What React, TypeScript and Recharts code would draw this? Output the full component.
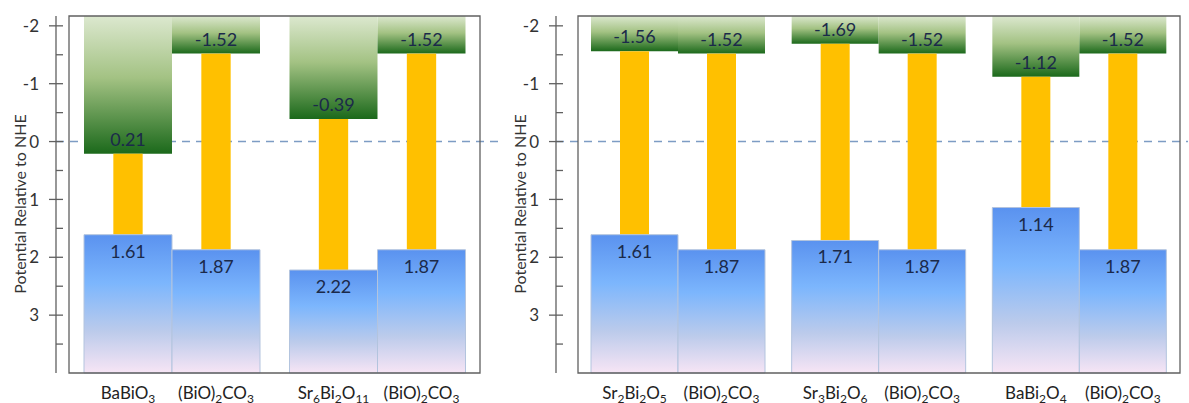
import React from 'react';
import { BarChart, Bar, XAxis, YAxis, ReferenceLine, ReferenceArea, LabelList } from 'recharts';

// ---- data ----
const Y_TOP = -2.17;
const Y_BOTTOM = 4;
const Y_TICKS = [-2, -1.5, -1, -0.5, 0, 0.5, 1, 1.5, 2, 2.5, 3, 3.5];

const leftMaterials = ['BaBiO3', 'Sr6Bi2O11'];
const leftMaterialCB = [0.21, -0.39];
const leftMaterialVB = [1.61, 2.22];

const rightMaterials = ['Sr2Bi2O5', 'Sr3Bi2O6', 'BaBi2O4'];
const rightMaterialCB = [-1.56, -1.69, -1.12];
const rightMaterialVB = [1.61, 1.71, 1.14];

const refName = '(BiO)2CO3';
const refCB = -1.52;
const refVB = 1.87;

const FONT = "Lato, 'Noto Sans', sans-serif";
const TEXT = '#1b2a4a';
const AXIS = '#606060';

function buildRows(names: string[], cbs: number[], vbs: number[]) {
  return names.map((n, i) => ({
    group: n,
    nameA: n,
    cbA: cbs[i],
    vbA: vbs[i],
    nameB: refName,
    cbB: refCB,
    vbB: refVB,
    gA: [Y_TOP, cbs[i]],
    yA: [cbs[i], vbs[i]],
    bA: [vbs[i], Y_BOTTOM],
    gB: [Y_TOP, refCB],
    yB: [refCB, refVB],
    bB: [refVB, Y_BOTTOM],
  }));
}

const leftRows = buildRows(leftMaterials, leftMaterialCB, leftMaterialVB);
const rightRows = buildRows(rightMaterials, rightMaterialCB, rightMaterialVB);

function norm(p: any) {
  const vb = p.viewBox && typeof p.viewBox.x === 'number' ? p.viewBox : p;
  const x = Number(vb.x);
  const w = Number(vb.width);
  const y = Number(vb.y);
  const h = Number(vb.height);
  const top = Math.min(y, y + h);
  return { x, w, top, bottom: top + Math.abs(h), h: Math.abs(h) };
}

const YTick = (props: any) => {
  const { x, y, payload } = props;
  const v = payload.value;
  const major = Number.isInteger(v);
  return (
    <g>
      <line x1={major ? x - 7 : x} x2={x + 7} y1={y} y2={y} stroke={AXIS} strokeWidth={1.3} />
      {major && (
        <text x={x - 17} y={y} dy="0.36em" textAnchor="end" fontSize={17} fontFamily={FONT} fill="#333">
          {String(v)}
        </text>
      )}
    </g>
  );
};

const GapShape = (props: any) => {
  const r = norm(props);
  const w = r.w / 3;
  return <rect x={r.x + (r.w - w) / 2} y={r.top} width={w} height={r.h} fill="#FFC000" />;
};

const cbLabel = (props: any) => {
  const r = norm(props);
  return (
    <text x={r.x + r.w / 2} y={r.bottom - 8} textAnchor="middle" fontSize={18} fontFamily={FONT} fill={TEXT}>
      {String(props.value)}
    </text>
  );
};

const vbLabel = (props: any) => {
  const r = norm(props);
  return (
    <text x={r.x + r.w / 2} y={r.top + 23} textAnchor="middle" fontSize={18} fontFamily={FONT} fill={TEXT}>
      {String(props.value)}
    </text>
  );
};

function formula(s: string) {
  const parts = s.match(/\d+|\D+/g) || [];
  let sub = false;
  return parts.map((p, i) => {
    const isNum = /^\d+$/.test(p);
    let dy = 0;
    if (isNum && !sub) { dy = 4; sub = true; }
    else if (!isNum && sub) { dy = -4; sub = false; }
    return (
      <tspan key={i} dy={dy} fontSize={isNum ? 12 : 17}>{p}</tspan>
    );
  });
}

const nameLabel = (props: any) => {
  const r = norm(props);
  return (
    <text x={r.x + r.w / 2} y={r.bottom + 26} textAnchor="middle" fontFamily={FONT} fill="#222">
      {formula(String(props.value))}
    </text>
  );
};

type PanelProps = {
  rows: any[];
  left: number;
  width: number;
  plotLeft: number;
  plotRight: number;
  padL: number;
  padR: number;
  gap: number;
  uid: string;
};

function Panel({ rows, left, width, plotLeft, plotRight, padL, padR, gap, uid }: PanelProps) {
  const YW = 40;
  const pad = { left: padL, right: padR };
  const yLabel = (p: any) => {
    const vb = p.viewBox || {};
    const cx = vb.x + vb.width - 36;
    const cy = 204;
    return (
      <text x={cx} y={cy} transform={`rotate(-90 ${cx} ${cy})`} textAnchor="middle" dy="0.35em" fontSize={16} fontFamily={FONT} fill="#333">
        Potential Relative to NHE
      </text>
    );
  };
  return (
    <div style={{ position: 'absolute', left, top: 0 }}>
      <BarChart
        width={width}
        height={403}
        data={rows}
        margin={{ top: 16, right: width - plotRight, bottom: 30, left: plotLeft - YW }}
        barGap={0}
        barCategoryGap={gap}
      >
        <defs>
          <linearGradient id={`green-${uid}`} x1="0" y1="0" x2="0" y2="1">
            <stop offset="0%" stopColor="#dce8cf" />
            <stop offset="45%" stopColor="#a3c283" />
            <stop offset="100%" stopColor="#1b691b" />
          </linearGradient>
          <linearGradient id={`blue-${uid}`} x1="0" y1="0" x2="0" y2="1">
            <stop offset="0%" stopColor="#5a92ef" />
            <stop offset="35%" stopColor="#7cb6fd" />
            <stop offset="70%" stopColor="#bccbeb" />
            <stop offset="100%" stopColor="#f7e5f5" />
          </linearGradient>
        </defs>
        <ReferenceLine y={0} stroke="#7d9cc4" strokeDasharray="8 6" strokeWidth={1.5} zIndex={250} />
        <XAxis xAxisId={0} dataKey="group" tick={false} tickLine={false} height={0} padding={pad}
          axisLine={{ stroke: AXIS, strokeWidth: 1.3 }} />
        <XAxis xAxisId="g" dataKey="group" hide padding={pad} />
        <XAxis xAxisId="y" dataKey="group" hide padding={pad} />
        <XAxis xAxisId="b" dataKey="group" hide padding={pad} />
        <YAxis yAxisId={0} type="number" reversed domain={[Y_TOP, Y_BOTTOM]} ticks={Y_TICKS} interval={0}
          width={YW} tickLine={false} tickSize={0} tickMargin={0} tick={<YTick />}
          axisLine={{ stroke: AXIS, strokeWidth: 1.3 }} label={yLabel} />
        <Bar xAxisId="g" dataKey="gA" fill={`url(#green-${uid})`} isAnimationActive={false}>
          <LabelList dataKey="cbA" content={cbLabel} />
        </Bar>
        <Bar xAxisId="g" dataKey="gB" fill={`url(#green-${uid})`} isAnimationActive={false}>
          <LabelList dataKey="cbB" content={cbLabel} />
        </Bar>
        <Bar xAxisId="y" dataKey="yA" fill="#FFC000" shape={GapShape} isAnimationActive={false} />
        <Bar xAxisId="y" dataKey="yB" fill="#FFC000" shape={GapShape} isAnimationActive={false} />
        <Bar xAxisId="b" dataKey="bA" fill={`url(#blue-${uid})`} stroke="#b3c4de" strokeWidth={1} isAnimationActive={false}>
          <LabelList dataKey="vbA" content={vbLabel} />
          <LabelList dataKey="nameA" content={nameLabel} />
        </Bar>
        <Bar xAxisId="b" dataKey="bB" fill={`url(#blue-${uid})`} stroke="#b3c4de" strokeWidth={1} isAnimationActive={false}>
          <LabelList dataKey="vbB" content={vbLabel} />
          <LabelList dataKey="nameB" content={nameLabel} />
        </Bar>
        <ReferenceArea y1={Y_TOP} y2={Y_BOTTOM} fill="none" fillOpacity={0} stroke={AXIS} strokeWidth={1.3} zIndex={600} />
      </BarChart>
    </div>
  );
}

export default function App() {
  return (
    <div style={{ position: 'absolute', left: 0, top: 0, width: 1189, height: 403, background: '#fff' }}>
      <Panel rows={leftRows} left={0} width={505} plotLeft={56} plotRight={501} padL={13} padR={21} gap={15} uid="l" />
      <Panel rows={rightRows} left={505} width={684} plotLeft={51} plotRight={683} padL={22} padR={8} gap={13} uid="r" />
    </div>
  );
}
